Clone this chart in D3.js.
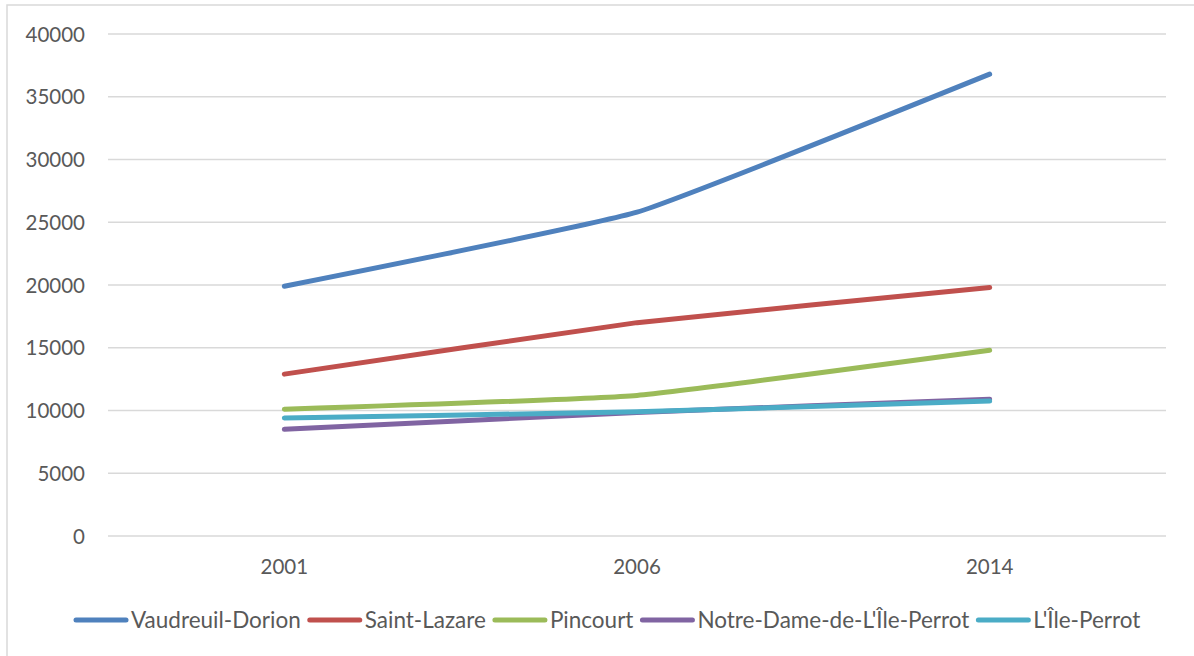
<!DOCTYPE html>
<html>
<head>
<meta charset="utf-8">
<script src="https://cdn.jsdelivr.net/npm/d3@7"></script>
<style>
  html, body { margin: 0; padding: 0; background: #fff; }
  svg { display: block; }
  text { font-family: Lato, "Open Sans", sans-serif; fill: #595959; }
</style>
</head>
<body>
<svg id="chart" width="1194" height="656"></svg>
<script>
const years = ["2001", "2006", "2014"];
const seriesNames = ["Vaudreuil-Dorion", "Saint-Lazare", "Pincourt", "Notre-Dame-de-L'Île-Perrot", "L'Île-Perrot"];
const vaudreuilDorion = [19900, 25800, 36800];
const saintLazare = [12900, 17000, 19800];
const pincourt = [10100, 11200, 14800];
const notreDame = [8500, 9850, 10900];
const ilePerrot = [9400, 9900, 10750];
const yTicks = [0, 5000, 10000, 15000, 20000, 25000, 30000, 35000, 40000];
const colors = ["#4f81bd", "#c0504d", "#9bbb59", "#8064a2", "#4bacc6"];

const seriesValues = [vaudreuilDorion, saintLazare, pincourt, notreDame, ilePerrot];
const drawOrder = [0, 1, 2, 3, 4];

const svg = d3.select("#chart");
const W = 1194, H = 656;

// outer frame
svg.append("rect").attr("x", 7).attr("y", 5).attr("width", W + 10).attr("height", H + 10)
  .attr("fill", "none").attr("stroke", "#d9d9d9").attr("stroke-width", 1.5);

const x = d3.scaleBand().domain(years).range([108, 1166]);
const y = d3.scaleLinear().domain([0, 40000]).range([536, 34]);

// gridlines
svg.append("g").selectAll("line").data(yTicks).join("line")
  .attr("x1", 108).attr("x2", 1166)
  .attr("y1", d => y(d)).attr("y2", d => y(d))
  .attr("stroke", "#d9d9d9").attr("stroke-width", 1.5);

// y axis labels
const yAxis = d3.axisLeft(y).tickValues(yTicks).tickSize(0).tickPadding(0).tickFormat(d3.format("d"));
const gy = svg.append("g").attr("transform", "translate(85,0)").call(yAxis);
gy.select(".domain").remove();
gy.selectAll("text").attr("font-size", 20.5).attr("fill", "#595959")
  .style("font-family", "Lato, 'Open Sans', sans-serif").attr("dy", "0.35em");

// x axis labels
const xAxis = d3.axisBottom(x).tickSize(0).tickPadding(0);
const gx = svg.append("g").attr("transform", "translate(0,567)").call(xAxis);
gx.select(".domain").remove();
gx.selectAll("text").attr("font-size", 20.5).attr("fill", "#595959")
  .style("font-family", "Lato, 'Open Sans', sans-serif").attr("dy", "0.35em");

const line = d3.line()
  .x((d, i) => x(years[i]) + x.bandwidth() / 2)
  .y(d => y(d))
  .curve(d3.curveCardinal.tension(0.65));

svg.append("g").selectAll("path").data(drawOrder).join("path")
  .attr("d", i => line(seriesValues[i]))
  .attr("fill", "none")
  .attr("stroke", i => colors[i])
  .attr("stroke-width", 5)
  .attr("stroke-linecap", "round")
  .attr("stroke-linejoin", "round");

// legend
const legend = svg.append("g").attr("transform", "translate(0,620)");
let lx = 74;
seriesNames.forEach((name, i) => {
  legend.append("line").attr("x1", lx + 2).attr("x2", lx + 52).attr("y1", 0).attr("y2", 0)
    .attr("stroke", colors[i]).attr("stroke-width", 5).attr("stroke-linecap", "round");
  const t = legend.append("text").attr("x", lx + 57).attr("y", 0).attr("dy", "0.35em")
    .attr("font-size", 22.5).text(name);
  const w = t.node().getComputedTextLength();
  lx = lx + 57 + w + 7;
});
</script>
</body>
</html>
